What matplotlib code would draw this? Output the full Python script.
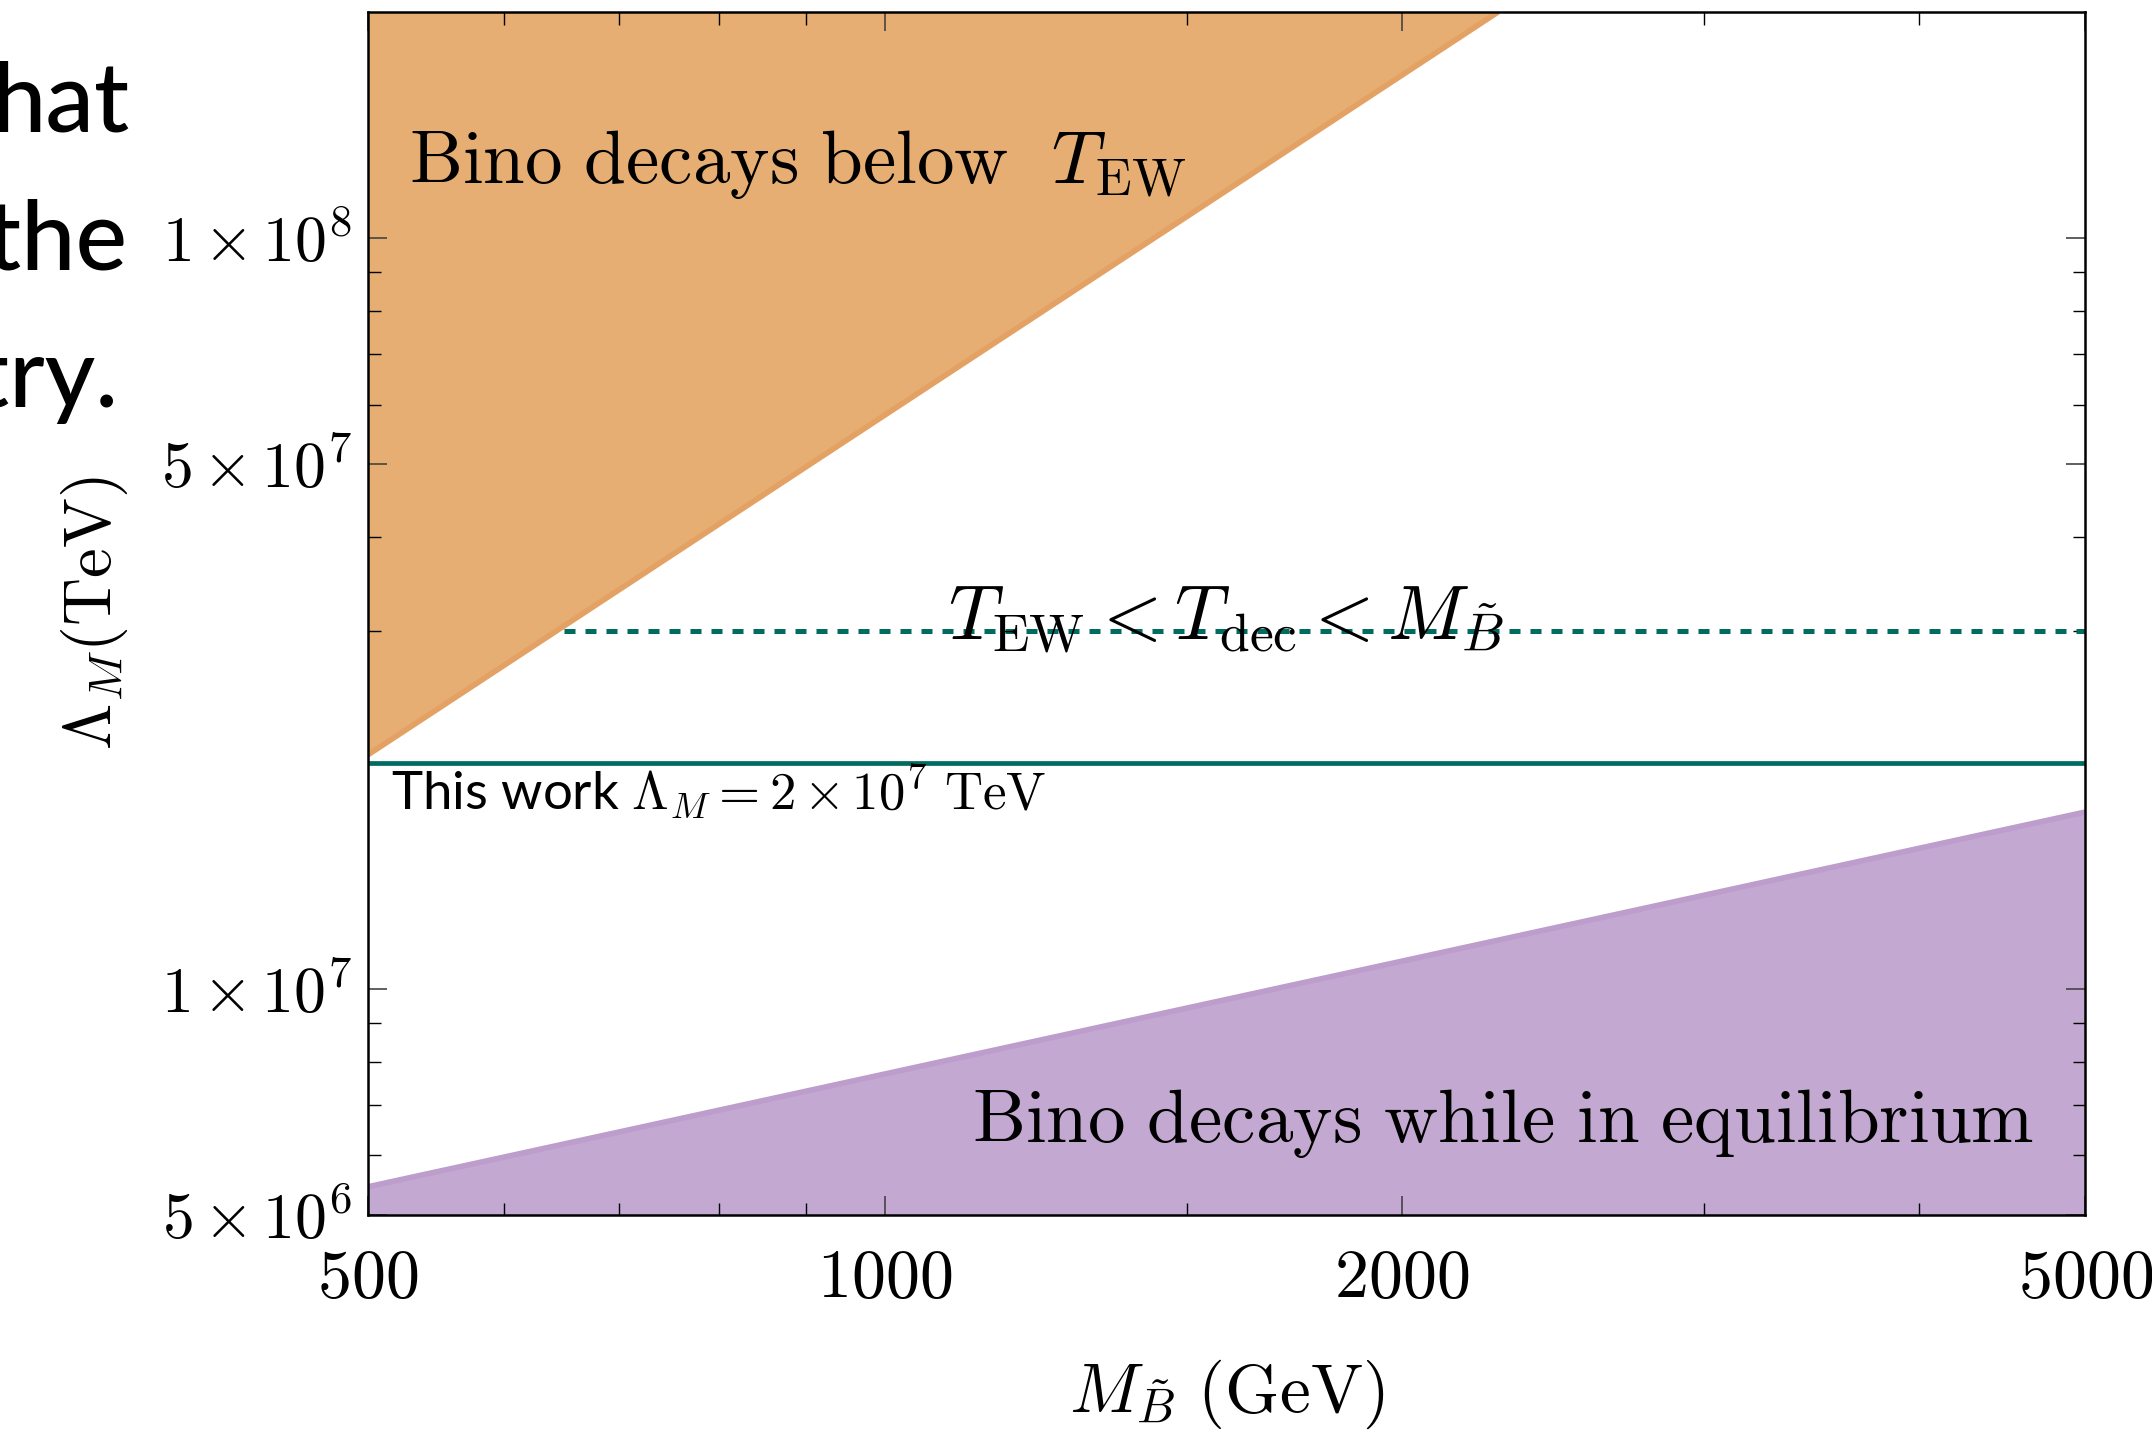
import matplotlib
matplotlib.use("Agg")
import matplotlib.pyplot as plt
from matplotlib.ticker import FixedLocator, FixedFormatter, NullFormatter

plt.rcParams['mathtext.fontset'] = 'cm'
plt.rcParams['font.family'] = ['DejaVu Serif']

# boundaries (M in GeV, Lambda in TeV)
m_orange = [500, 2275]
lam_orange = [2.05e7, 2.0e8]
m_purple = [500, 5000]
lam_purple = [5.45e6, 1.72e7]
m_dash = [650, 5000]
lam_dash = [3.0e7, 3.0e7]
m_this = [500, 5000]
lam_this = [2.0e7, 2.0e7]

x_major = [500, 1000, 2000, 5000]
x_minor = [600, 700, 800, 900, 1500, 3000, 4000]
y_major = [5e6, 1e7, 5e7, 1e8]
y_major_labels = [r'$5\,{\times}\,10^{6}$', r'$1\,{\times}\,10^{7}$',
                  r'$5\,{\times}\,10^{7}$', r'$1\,{\times}\,10^{8}$']
y_minor = [6e6, 7e6, 8e6, 9e6, 2e7, 3e7, 4e7, 6e7, 7e7, 8e7, 9e7]

orange = '#e6ae72'
orange_edge = '#e3a263'
purple = '#c3a8d1'
purple_edge = '#bc9dcc'
teal = '#006b5f'

fig = plt.figure(figsize=(21.52, 14.36), dpi=100)
ax = fig.add_axes([0.171, 0.154, 0.798, 0.8376])

ax.fill_between(m_orange, lam_orange, 2.0e8, color=orange, lw=0)
ax.plot(m_orange, lam_orange, color=orange_edge, lw=4, solid_capstyle='butt')
ax.fill_between(m_purple, 0, lam_purple, color=purple, lw=0)
ax.plot(m_purple, lam_purple, color=purple_edge, lw=4, solid_capstyle='butt')

ax.plot(m_dash, lam_dash, color=teal, lw=3.6, ls=(0, (2.2, 2.0)))
ax.plot(m_this, lam_this, color=teal, lw=3.4)

ax.set_xscale('log')
ax.set_yscale('log')
ax.set_xlim(500, 5000)
ax.set_ylim(5e6, 2e8)

ax.xaxis.set_major_locator(FixedLocator(x_major))
ax.xaxis.set_major_formatter(FixedFormatter([rf'${v}$' for v in x_major]))
ax.xaxis.set_minor_locator(FixedLocator(x_minor))
ax.xaxis.set_minor_formatter(NullFormatter())
ax.yaxis.set_major_locator(FixedLocator(y_major))
ax.yaxis.set_major_formatter(FixedFormatter(y_major_labels))
ax.yaxis.set_minor_locator(FixedLocator(y_minor))
ax.yaxis.set_minor_formatter(NullFormatter())

ax.tick_params(which='both', direction='in', top=True, right=True)
ax.tick_params(which='major', length=14, width=1.2, color='#444444')
ax.tick_params(axis='x', which='major', labelsize=49, pad=22)
ax.tick_params(axis='y', which='major', labelsize=46, pad=12)
ax.tick_params(which='minor', length=9, width=1.0, color='black')
for s in ax.spines.values():
    s.set_linewidth(1.8)

ax.set_xlabel(r'$M_{\tilde{B}}\ (\mathrm{GeV})$', fontsize=50, labelpad=34)
ax.set_ylabel(r'$\Lambda_M(\mathrm{TeV})$', fontsize=48, labelpad=22)

ax.text(0.024, 0.858, r'$\mathrm{Bino\ decays\ below}\ \ T_{\mathrm{EW}}$',
        transform=ax.transAxes, fontsize=54, ha='left', va='baseline')
ax.text(0.970, 0.0605, r'$\mathrm{Bino\ decays\ while\ in\ equilibrium}$',
        transform=ax.transAxes, fontsize=54, ha='right', va='baseline')
ax.text(0.5, 0.478, r'$T_{\mathrm{EW}} < T_{\mathrm{dec}} < M_{\tilde{B}}$',
        transform=ax.transAxes, fontsize=55, ha='center', va='baseline')
ax.text(0.0136, 0.337, r'This work $\Lambda_M = 2\,{\times}\,10^{7}\ \mathrm{TeV}$',
        transform=ax.transAxes, fontsize=38, ha='left', va='baseline',
        family=['Lato', 'DejaVu Sans'])

# fragments of the slide text cut by the left edge
for word, xr, yb in [('hat', 130, 132), ('the', 127, 270), ('try.', 118, 407)]:
    fig.text(xr / 2152, 1 - yb / 1436, word, fontsize=70, ha='right', va='baseline',
             family=['Lato', 'DejaVu Sans'], fontweight='medium')

fig.savefig('out.png', dpi=100)
